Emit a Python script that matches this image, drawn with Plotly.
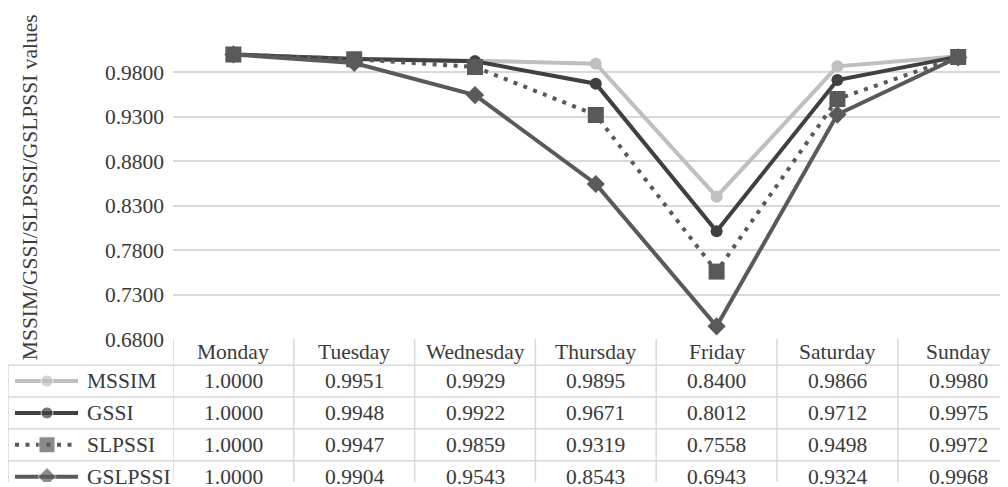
import plotly.graph_objects as go

# ---------------- data ----------------
days = ["Monday", "Tuesday", "Wednesday", "Thursday", "Friday", "Saturday", "Sunday"]
series_names = ["MSSIM", "GSSI", "SLPSSI", "GSLPSSI"]
mssim = [1.0000, 0.9951, 0.9929, 0.9895, 0.8400, 0.9866, 0.9980]
gssi = [1.0000, 0.9948, 0.9922, 0.9671, 0.8012, 0.9712, 0.9975]
slpssi = [1.0000, 0.9947, 0.9859, 0.9319, 0.7558, 0.9498, 0.9972]
gslpssi = [1.0000, 0.9904, 0.9543, 0.8543, 0.6943, 0.9324, 0.9968]
y_ticks = [0.68, 0.73, 0.78, 0.83, 0.88, 0.93, 0.98]
y_title = "MSSIM/GSSI/SLPSSI/GSLPSSI values"

series_values = [mssim, gssi, slpssi, gslpssi]

# ---------------- styles ----------------
# the page body keeps its default 8px margin; the capture is a bit taller than the
# window and gets squeezed vertically, so positions are mapped accordingly
OFFX, OFFY = 8, 8
W, H = 1008 - OFFX, 487
KY = 487 / 503
FONT = "Liberation Serif"
TXT = "#3a3a3a"
GRID = "#d9d9d9"
FS = 21.5
styles = [
    dict(color="#bfbfbf", dash="solid", symbol="circle", size=12),
    dict(color="#404040", dash="solid", symbol="circle", size=12),
    dict(color="#595959", dash="4px,6.5px", symbol="square", size=16),
    dict(color="#5a5a5a", dash="solid", symbol="diamond", size=14),
]

# layout positions in window pixels
plot_left = 173.0
col_w = 120.8
plot_top = 27.4
table_top = 337.0
header_bot = 363.0
row_h = 31.7
table_left = 8.0
y_min, y_max = 0.68, 1.03


def px(s):
    return (s - OFFX) / W


def fy(s):
    return s / KY - OFFY


def py(s):
    return 1 - fy(s) / H


fig = go.Figure()

for name, vals, st in zip(series_names, series_values, styles):
    fig.add_trace(go.Scatter(
        x=list(range(len(days))), y=vals, name=name, mode="lines+markers",
        line=dict(color=st["color"], width=4, dash=st["dash"]),
        marker=dict(color=st["color"], symbol=st["symbol"], size=st["size"]),
        showlegend=False, xaxis="x", yaxis="y",
    ))

# legend keys inside the data table (second axis pair in window-pixel units)
for i, (name, st) in enumerate(zip(series_names, styles)):
    yc = header_bot + (i + 0.5) * row_h
    fig.add_trace(go.Scatter(
        x=[15, 47, 78], y=[yc, yc, yc], mode="lines+markers",
        line=dict(color=st["color"], width=4, dash=st["dash"]),
        marker=dict(color=st["color"], symbol=st["symbol"], size=[0, st["size"], 0]),
        showlegend=False, hoverinfo="skip", xaxis="x2", yaxis="y2",
    ))

x_span = (1008 - plot_left) / col_w
y2_bottom = (H + OFFY) * KY

fig.update_layout(
    width=W, height=H, margin=dict(l=0, r=0, t=0, b=0),
    paper_bgcolor="white", plot_bgcolor="white",
    font=dict(family=FONT, size=FS, color=TXT),
    xaxis=dict(domain=[px(plot_left), 1], range=[-0.5, -0.5 + x_span],
               showticklabels=False, showgrid=False, zeroline=False, showline=False,
               fixedrange=True),
    yaxis=dict(domain=[py(table_top), py(plot_top)], range=[y_min, y_max],
               tickvals=y_ticks, ticktext=[f"{v:.4f}" for v in y_ticks],
               showgrid=True, gridcolor=GRID, gridwidth=1.5, zeroline=False,
               showline=False, ticks="", ticklabelstandoff=8,
               tickfont=dict(family=FONT, size=FS, color=TXT), fixedrange=True),
    xaxis2=dict(domain=[0, px(plot_left)], range=[OFFX, plot_left], visible=False,
                anchor="y2", fixedrange=True),
    yaxis2=dict(domain=[0, py(header_bot)], range=[y2_bottom, header_bot], visible=False,
                anchor="x2", fixedrange=True),
)

shapes = []
# horizontal borders
for k in range(4):
    yb = header_bot + k * row_h
    shapes.append(dict(type="line", xref="paper", yref="paper",
                       x0=px(table_left), x1=1, y0=py(yb), y1=py(yb),
                       line=dict(color=GRID, width=1.5)))
# vertical borders of the day columns
for i in range(len(days) + 1):
    shapes.append(dict(type="line", xref="x", yref="paper",
                       x0=i - 0.5, x1=i - 0.5, y0=py(table_top), y1=0,
                       line=dict(color=GRID, width=1.5)))
# left edge of legend column
shapes.append(dict(type="line", xref="paper", yref="paper",
                   x0=px(table_left), x1=px(table_left), y0=py(header_bot), y1=0,
                   line=dict(color=GRID, width=1.5)))
fig.update_layout(shapes=shapes)

ann = []
# header row
for i, d in enumerate(days):
    ann.append(dict(x=i, y=py((table_top + header_bot) / 2), xref="x", yref="paper",
                    text=d, showarrow=False, xanchor="center", yanchor="middle",
                    font=dict(family=FONT, size=FS, color=TXT)))
# data rows
for r, (name, vals) in enumerate(zip(series_names, series_values)):
    yc = py(header_bot + (r + 0.5) * row_h)
    ann.append(dict(x=px(85), y=yc, xref="paper", yref="paper", text=name,
                    showarrow=False, xanchor="left", yanchor="middle",
                    font=dict(family=FONT, size=FS, color=TXT)))
    for i, v in enumerate(vals):
        ann.append(dict(x=i, y=yc, xref="x", yref="paper", text=f"{v:.4f}",
                        showarrow=False, xanchor="center", yanchor="middle",
                        font=dict(family=FONT, size=FS, color=TXT)))
# y-axis title
ann.append(dict(x=px(30), y=py(186), xref="paper", yref="paper", text=y_title,
                textangle=-90, showarrow=False, xanchor="center", yanchor="middle",
                font=dict(family=FONT, size=21.5, color=TXT)))
fig.update_layout(annotations=ann)

fig.write_html("out.html")
